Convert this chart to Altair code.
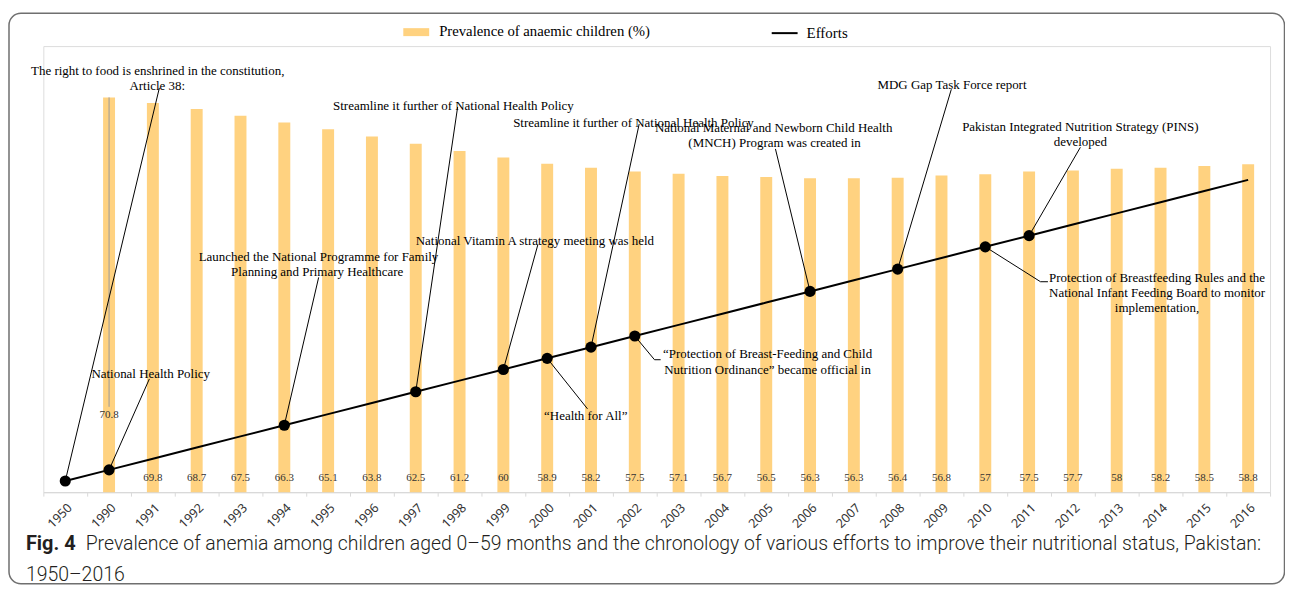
import altair as alt
import pandas as pd

# ---------------- data ----------------
years = ["1950", "1990", "1991", "1992", "1993", "1994", "1995", "1996", "1997",
         "1998", "1999", "2000", "2001", "2002", "2003", "2004", "2005", "2006",
         "2007", "2008", "2009", "2010", "2011", "2012", "2013", "2014", "2015", "2016"]
prevalence = [None, 70.8, 69.8, 68.7, 67.5, 66.3, 65.1, 63.8, 62.5, 61.2, 60, 58.9,
              58.2, 57.5, 57.1, 56.7, 56.5, 56.3, 56.3, 56.4, 56.8, 57, 57.5, 57.7,
              58, 58.2, 58.5, 58.8]
efforts = [1, 2, 3, 4, 5, 6, 7, 8, 9, 10, 11, 12, 13, 14, 15, 16, 17, 18, 19, 20,
           21, 22, 23, 24, 25, 26, 27, 28]
category_index = [0, 1, 2, 3, 4, 5, 6, 7, 8, 9, 10, 11, 12, 13, 14, 15, 16, 17, 18,
                  19, 20, 21, 22, 23, 24, 25, 26, 27]
effort_marker_years = ["1950", "1990", "1994", "1997", "1999", "2000", "2001", "2002",
                       "2006", "2008", "2010", "2011"]

# annotation text lines (x in category-index units, y in effort units)
ann_text = [
    "The right to food is enshrined in the constitution,", "Article 38:",
    "National Health Policy",
    "Launched the National Programme for Family", "Planning and Primary Healthcare",
    "Streamline it further of National Health Policy",
    "National Vitamin A strategy meeting was held",
    "\u201cHealth for All\u201d",
    "Streamline it further of National Health Policy",
    "\u201cProtection of Breast-Feeding and Child", "Nutrition Ordinance\u201d became official in",
    "National Maternal and Newborn Child Health", "(MNCH) Program was created in",
    "MDG Gap Task Force report",
    "Pakistan Integrated Nutrition Strategy (PINS)", "developed",
    "Protection of Breastfeeding Rules and the", "National Infant Feeding Board to monitor",
    "implementation,",
]
ann_x = [2.11, 2.10, 1.95, 5.78, 5.75, 8.86, 10.72, 11.88, 12.97, 16.03, 16.03,
         16.17, 16.19, 20.24, 23.17, 23.17, 24.92, 24.92, 24.92]
ann_y = [37.77, 36.43, 10.60, 21.10, 19.76, 34.64, 22.50, 6.81, 33.10, 12.38, 10.98,
         32.65, 31.31, 36.54, 32.71, 31.43, 19.17, 17.83, 16.54]

# leader lines from effort markers to annotation text
leader_id = ["a", "a", "b", "b", "c", "c", "d", "d", "e", "e", "f", "f", "g", "g",
             "h", "h", "h", "i", "i", "j", "j", "k", "k", "l", "l", "l"]
leader_x = [0, 2.148, 1, 1.92, 5, 5.784, 8, 8.957, 10, 10.79, 11, 11.92, 12, 13.10,
            13, 13.45, 13.59, 17, 16.21, 19, 20.225, 22, 23.17, 21, 22.26, 22.43]
leader_y = [1, 36.25, 2, 10.15, 6, 19.26, 9, 34.55, 11, 22.23, 12, 7.47, 13, 33.01,
            14, 11.875, 11.875, 18, 30.78, 20, 36.13, 23, 30.92, 22, 18.87, 18.87]
leader_seq = [0, 1, 0, 1, 0, 1, 0, 1, 0, 1, 0, 1, 0, 1, 0, 1, 2, 0, 1, 0, 1, 0, 1, 0, 1, 2]

# label of the 1990 bar, moved up with a leader
label_1990_year = "1990"
label_1990_value = 70.8
label_1990_pos = 13.9
label_1990_leader_end = 15.3

# ---------------- tables ----------------
W, H = 1232, 448
BAR_COLOR = "#FFD280"
SERIF = "Liberation Serif"

main = pd.DataFrame({
    "year": years, "prev": prevalence, "effort": efforts, "idx": category_index,
    "bar_series": "Prevalence of anaemic children (%)", "line_series": "Efforts",
})
ann = pd.DataFrame({"text": ann_text, "x": ann_x, "y": ann_y})
leaders = pd.DataFrame({"id": leader_id, "x": leader_x, "y": leader_y, "seq": leader_seq})

xband = alt.Scale(domain=years, paddingInner=0, paddingOuter=0)
ybar = alt.Scale(domain=[0, 80], nice=False, zero=True)
xq = alt.Scale(domain=[-0.5, 27.5], nice=False, zero=False)
yq = alt.Scale(domain=[0, 40], nice=False, zero=True)

base = alt.Chart(main)

bars = base.mark_bar(size=12).encode(
    x=alt.X("year:N", scale=xband, sort=years,
            axis=alt.Axis(title=None, labelAngle=-45, labelFont="Noto Sans",
                          labelFontSize=12.5, labelColor="#333333",
                          domainColor="#d9d9d9", tickColor="#d9d9d9", tickSize=4,
                          tickBand="extent", labelPadding=5, grid=False,
                          domainWidth=1.2)),
    y=alt.Y("prev:Q", scale=ybar, axis=None),
    color=alt.Color("bar_series:N", scale=alt.Scale(range=[BAR_COLOR]),
                    legend=alt.Legend(title=None, orient="none", legendX=361.5,
                                      legendY=-27,
                                      symbolType="M-1,-0.3077H1V0.3077H-1Z",
                                      symbolSize=676, symbolStrokeWidth=0,
                                      symbolOpacity=1, labelLimit=0,
                                      labelFont=SERIF, labelFontSize=14.8,
                                      labelColor="black", labelOffset=10)),
)

bar_labels = base.transform_filter(
    "datum.prev != null && datum.year != '1990'"
).mark_text(font=SERIF, fontSize=11, color="#333333", baseline="bottom", dy=-9).encode(
    x=alt.X("year:N", scale=xband, sort=years, axis=None),
    y=alt.value(H),
    text=alt.Text("prev:Q"),
)

lab90 = alt.Chart(pd.DataFrame({"year": [label_1990_year], "prev": [label_1990_value],
                                "pos": [label_1990_pos], "end": [label_1990_leader_end]}))
rule90 = lab90.mark_rule(color="#9a9a9a", strokeWidth=1).encode(
    x=alt.X("year:N", scale=xband, sort=years, axis=None),
    y=alt.Y("prev:Q", scale=ybar, axis=None),
    y2="end:Q",
)
text90 = lab90.mark_text(font=SERIF, fontSize=11, color="#333333", baseline="middle").encode(
    x=alt.X("year:N", scale=xband, sort=years, axis=None),
    y=alt.Y("pos:Q", scale=ybar, axis=None),
    text=alt.Text("prev:Q"),
)

effort_line = base.mark_line(strokeWidth=2).encode(
    x=alt.X("idx:Q", scale=xq, axis=None),
    y=alt.Y("effort:Q", scale=yq, axis=None),
    stroke=alt.Stroke("line_series:N", scale=alt.Scale(range=["black"]),
                      legend=alt.Legend(title=None, orient="none", legendX=730.5,
                                        legendY=-27, symbolType="stroke",
                                        symbolSize=676, symbolStrokeWidth=2,
                                        labelFont=SERIF, labelFontSize=15,
                                        labelColor="black", labelOffset=8)),
)

leader_lines = alt.Chart(leaders).mark_line(color="black", strokeWidth=1).encode(
    x=alt.X("x:Q", scale=xq, axis=None),
    y=alt.Y("y:Q", scale=yq, axis=None),
    detail="id:N",
    order=alt.Order("seq:Q"),
)

markers = base.transform_filter(
    alt.FieldOneOfPredicate(field="year", oneOf=effort_marker_years)
).mark_circle(size=125, color="black", opacity=1).encode(
    x=alt.X("idx:Q", scale=xq, axis=None),
    y=alt.Y("effort:Q", scale=yq, axis=None),
)

ann_texts = alt.Chart(ann).mark_text(font=SERIF, fontSize=13, color="black",
                                     align="center", baseline="middle").encode(
    x=alt.X("x:Q", scale=xq, axis=None),
    y=alt.Y("y:Q", scale=yq, axis=None),
    text="text:N",
)

# frame and caption
one = alt.Chart(pd.DataFrame({"k": [0]}))
frame = one.mark_rect(filled=False, stroke="#6f6f6f", strokeWidth=1.5, cornerRadius=12).encode(
    x=alt.value(-34.5), x2=alt.value(1246.5), y=alt.value(-33), y2=alt.value(540),
)
CAP_FONT = "Roboto"
cap_fig = one.mark_text(text="Fig. 4", font=CAP_FONT, fontWeight="bold", fontSize=20,
                        color="#231f20", align="left", baseline="middle").encode(
    x=alt.value(-17.5), y=alt.value(500))
cap_1 = one.mark_text(
    text="Prevalence of anemia among children aged 0\u201359 months and the chronology of various efforts to improve their nutritional status, Pakistan:",
    font=CAP_FONT, fontSize=19.5, fontWeight=300, color="#231f20", align="left",
    baseline="middle").encode(
    x=alt.value(42.5), y=alt.value(500))
cap_2 = one.mark_text(text="1950\u20132016", font=CAP_FONT, fontSize=19.5, fontWeight=300,
                      color="#231f20", align="left", baseline="middle").encode(
    x=alt.value(-17.5), y=alt.value(531))

chart = alt.layer(
    frame, bars, bar_labels, rule90, text90, leader_lines, effort_line, markers,
    ann_texts, cap_fig, cap_1, cap_2,
).resolve_scale(
    x="independent", y="independent"
).properties(
    width=W, height=H,
    autosize=alt.AutoSizeParams(type="none"),
    padding={"left": 35.5, "top": 37, "right": 15, "bottom": 93},
).configure_view(stroke=None).configure(background="white")

chart.save("out.html", embed_options={"renderer": "svg", "actions": False})
